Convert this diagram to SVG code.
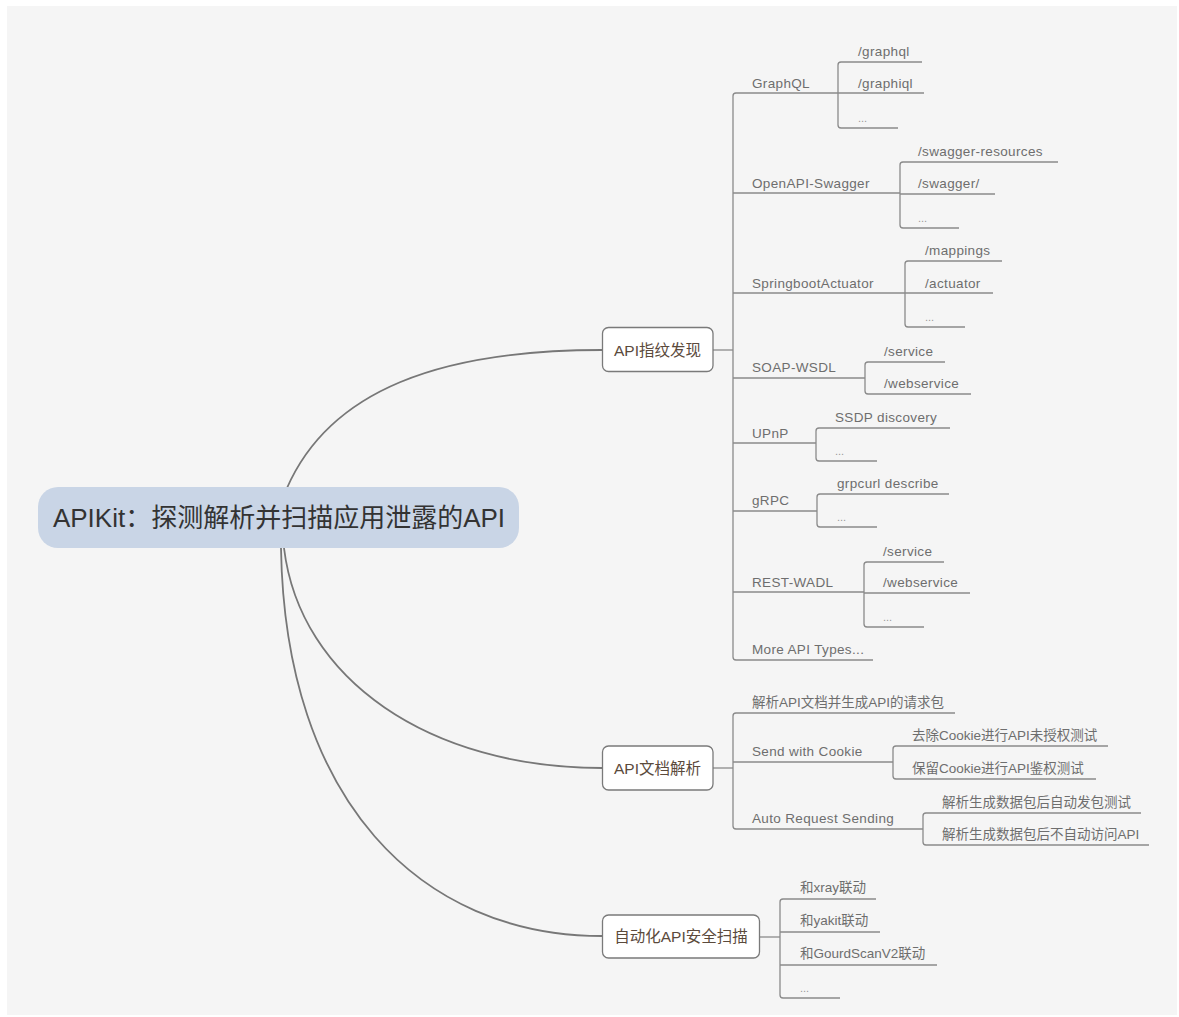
<svg xmlns="http://www.w3.org/2000/svg" width="1179" height="1017" viewBox="0 0 1179 1017">
<style>
text{font-family:"Liberation Sans","Noto Sans CJK SC",sans-serif}
.root{font-size:26px;fill:#333}
.br{font-size:15.5px;fill:#5b4a3c;text-anchor:middle}
.lf{font-size:13.5px;fill:#6e6e6e}
.en{letter-spacing:0.35px}
.dots{font-size:11px;fill:#999}
.box{fill:#fff;stroke:#7a7a7a;stroke-width:1.3}
.ln{fill:none;stroke:#8a8a8a;stroke-width:1.3}
.cv{fill:none;stroke:#777;stroke-width:1.8}
</style>
<rect x="0" y="0" width="1179" height="1017" fill="#fff"/>
<rect x="7" y="6" width="1170" height="1009" fill="#f5f5f5"/>
<g id="connectors">
<path class="cv" d="M287,488 C330,390 440,350 602,350"/>
<path class="cv" d="M284,548 C300,680 430,768 602,768"/>
<path class="cv" d="M281,548 C285,800 420,936 602,936"/>
<path class="ln" d="M713,350 H733"/>
<path class="ln" d="M838,93 H736 Q733,93 733,96 V657 Q733,660 736,660 H873"/>
<path class="ln" d="M733,193 H900 M733,293 H905 M733,378 H865 M733,443 H816 M733,511 H817 M733,592 H864"/>
<path class="ln" d="M922,62 H841 Q838,62 838,65 V125 Q838,128 841,128 H898 M838,93 H924"/>
<path class="ln" d="M1058,162 H903 Q900,162 900,165 V225 Q900,228 903,228 H959 M900,194 H995"/>
<path class="ln" d="M1002,261 H908 Q905,261 905,264 V324 Q905,327 908,327 H965 M905,293 H993"/>
<path class="ln" d="M945,362 H868 Q865,362 865,365 V391 Q865,394 868,394 H971"/>
<path class="ln" d="M950,428 H819 Q816,428 816,431 V458 Q816,461 819,461 H877"/>
<path class="ln" d="M949,494 H820 Q817,494 817,497 V524 Q817,527 820,527 H877"/>
<path class="ln" d="M944,562 H867 Q864,562 864,565 V624 Q864,627 867,627 H924 M864,593 H970"/>
<path class="ln" d="M713,768 H733"/>
<path class="ln" d="M955,713 H736 Q733,713 733,716 V826 Q733,829 736,829 H923"/>
<path class="ln" d="M733,762 H893"/>
<path class="ln" d="M1108,746 H896 Q893,746 893,749 V776 Q893,779 896,779 H1096"/>
<path class="ln" d="M1141,813 H926 Q923,813 923,816 V842 Q923,845 926,845 H1149"/>
<path class="ln" d="M760,937 H780"/>
<path class="ln" d="M876,899 H783 Q780,899 780,902 V995 Q780,998 783,998 H840 M780,932 H880 M780,965 H937"/>
</g>
<g id="root">
<rect x="38" y="487" width="481" height="61" rx="20" fill="#c9d5e6"/>
<text class="root" x="279" y="527" text-anchor="middle">APIKit：探测解析并扫描应用泄露的API</text>
</g>
<g id="b1">
<rect class="box" x="602.5" y="327.5" width="110.5" height="44" rx="6"/>
<text class="br" x="657.5" y="355.5">API指纹发现</text>
</g>
<g id="b2">
<rect class="box" x="602.5" y="746" width="110.5" height="44" rx="6"/>
<text class="br" x="657.5" y="773.5">API文档解析</text>
</g>
<g id="b3">
<rect class="box" x="602.5" y="915" width="157" height="43" rx="6"/>
<text class="br" x="681" y="942">自动化API安全扫描</text>
</g>
<g id="graphql"><text class="lf en" x="752" y="88">GraphQL</text></g>
<g id="graphql-1"><text class="lf en" x="858" y="56">/graphql</text></g>
<g id="graphql-2"><text class="lf en" x="858" y="88">/graphiql</text></g>
<g id="graphql-3"><text class="dots" x="858" y="122">...</text></g>
<g id="swagger"><text class="lf en" x="752" y="188">OpenAPI-Swagger</text></g>
<g id="swagger-1"><text class="lf en" x="918" y="156">/swagger-resources</text></g>
<g id="swagger-2"><text class="lf en" x="918" y="188">/swagger/</text></g>
<g id="swagger-3"><text class="dots" x="918" y="222">...</text></g>
<g id="spring"><text class="lf en" x="752" y="288">SpringbootActuator</text></g>
<g id="spring-1"><text class="lf en" x="925" y="255">/mappings</text></g>
<g id="spring-2"><text class="lf en" x="925" y="288">/actuator</text></g>
<g id="spring-3"><text class="dots" x="925" y="321">...</text></g>
<g id="soap"><text class="lf en" x="752" y="372">SOAP-WSDL</text></g>
<g id="soap-1"><text class="lf en" x="884" y="356">/service</text></g>
<g id="soap-2"><text class="lf en" x="884" y="388">/webservice</text></g>
<g id="upnp"><text class="lf en" x="752" y="438">UPnP</text></g>
<g id="upnp-1"><text class="lf en" x="835" y="422">SSDP discovery</text></g>
<g id="upnp-2"><text class="dots" x="835" y="455">...</text></g>
<g id="grpc"><text class="lf en" x="752" y="505">gRPC</text></g>
<g id="grpc-1"><text class="lf en" x="837" y="488">grpcurl describe</text></g>
<g id="grpc-2"><text class="dots" x="837" y="521">...</text></g>
<g id="rest"><text class="lf en" x="752" y="587">REST-WADL</text></g>
<g id="rest-1"><text class="lf en" x="883" y="556">/service</text></g>
<g id="rest-2"><text class="lf en" x="883" y="587">/webservice</text></g>
<g id="rest-3"><text class="dots" x="883" y="621">...</text></g>
<g id="more"><text class="lf en" x="752" y="654">More API Types...</text></g>
<g id="doc-1"><text class="lf" x="752" y="707">解析API文档并生成API的请求包</text></g>
<g id="cookie"><text class="lf en" x="752" y="756">Send with Cookie</text></g>
<g id="cookie-1"><text class="lf" x="912" y="740">去除Cookie进行API未授权测试</text></g>
<g id="cookie-2"><text class="lf" x="912" y="773">保留Cookie进行API鉴权测试</text></g>
<g id="auto"><text class="lf en" x="752" y="823">Auto Request Sending</text></g>
<g id="auto-1"><text class="lf" x="942" y="807">解析生成数据包后自动发包测试</text></g>
<g id="auto-2"><text class="lf" x="942" y="839">解析生成数据包后不自动访问API</text></g>
<g id="scan-1"><text class="lf" x="800" y="892">和xray联动</text></g>
<g id="scan-2"><text class="lf" x="800" y="925">和yakit联动</text></g>
<g id="scan-3"><text class="lf" x="800" y="958">和GourdScanV2联动</text></g>
<g id="scan-4"><text class="dots" x="800" y="992">...</text></g>
</svg>
